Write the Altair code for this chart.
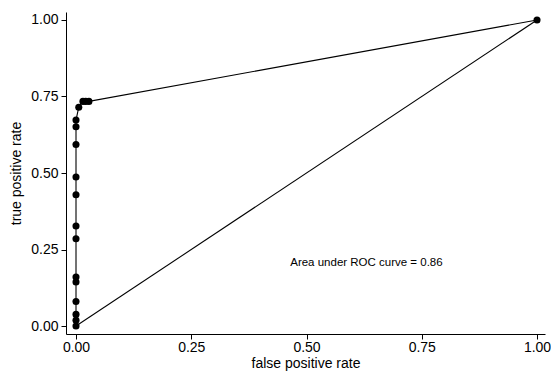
import altair as alt
import pandas as pd

fpr = [0.0, 0.0, 0.0, 0.0, 0.0, 0.0, 0.0, 0.0, 0.0, 0.0, 0.0, 0.0, 0.0, 0.006, 0.015, 0.021, 0.028, 1.0]
tpr = [0.0, 0.019, 0.038, 0.080, 0.144, 0.160, 0.285, 0.327, 0.429, 0.487, 0.593, 0.651, 0.673, 0.715, 0.734, 0.734, 0.734, 1.0]
diag_x = [0.0, 1.0]
diag_y = [0.0, 1.0]
ticks = [0.0, 0.25, 0.5, 0.75, 1.0]
note = "Area under ROC curve = 0.86"

roc = pd.DataFrame({"fpr": fpr, "tpr": tpr, "order": list(range(len(fpr)))})
diag = pd.DataFrame({"fpr": diag_x, "tpr": diag_y})
lab = pd.DataFrame({"fpr": [0.63], "tpr": [0.205], "t": [note]})

xs = alt.Scale(domain=[-0.0217, 1.0173], nice=False, zero=False)
ys = alt.Scale(domain=[-0.0261, 1.0261], nice=False, zero=False)
xaxis = alt.Axis(values=ticks, format=".2f", title="false positive rate", grid=False)
yaxis = alt.Axis(values=ticks, format=".2f", title="true positive rate", grid=False)

base = alt.Chart(roc).encode(
    x=alt.X("fpr:Q", scale=xs, axis=xaxis),
    y=alt.Y("tpr:Q", scale=ys, axis=yaxis),
    order="order:Q",
)
line = base.mark_line(color="black", strokeWidth=1.1)
pts = base.mark_point(filled=True, color="black", size=50, opacity=1)
dline = alt.Chart(diag).mark_line(color="black", strokeWidth=1.1).encode(
    x=alt.X("fpr:Q", scale=xs), y=alt.Y("tpr:Q", scale=ys)
)
txt = alt.Chart(lab).mark_text(font="Liberation Sans", fontSize=11.5, color="black").encode(
    x=alt.X("fpr:Q", scale=xs), y=alt.Y("tpr:Q", scale=ys), text="t:N"
)

chart = alt.layer(dline, line, pts, txt).properties(
    width=479, height=322,
    autosize=alt.AutoSizeParams(type="none"),
    padding={"left": 58, "top": 4, "right": 6, "bottom": 38},
).configure_view(stroke=None).configure_axis(
    domainColor="black", tickColor="black", labelColor="black", titleColor="black",
    labelFont="Liberation Sans", titleFont="Liberation Sans", labelFontSize=14,
    titleFontSize=14, titleFontWeight="normal", tickSize=5, labelPadding=3,
    domainWidth=1, tickWidth=1
).configure_axisY(titlePadding=7).configure_axisX(labelPadding=1, titlePadding=2)

chart.save("out.html", embed_options={"renderer": "svg", "actions": False})
